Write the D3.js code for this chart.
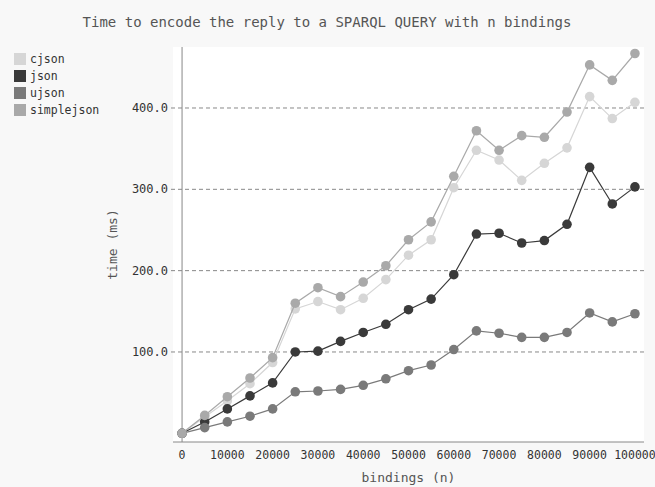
<!DOCTYPE html>
<html>
<head>
<meta charset="utf-8">
<script src="https://cdn.jsdelivr.net/npm/d3@7"></script>
<style>
  body { margin: 0; background: #f8f8f8; }
  svg text { font-family: "DejaVu Sans Mono", monospace; }
</style>
</head>
<body>
<svg id="chart" width="655" height="487"></svg>
<script>
// Time to encode SPARQL reply

var bindings = [0, 5000, 10000, 15000, 20000, 25000, 30000, 35000, 40000, 45000, 50000,
  55000, 60000, 65000, 70000, 75000, 80000, 85000, 90000, 95000, 100000];

var cjson = [0, 20, 40, 61, 87, 153, 162, 152, 166, 189, 219,
  238, 302, 348, 336, 311, 332, 351, 414, 387, 407];
var json = [0, 14, 30, 46, 62, 100, 101, 113, 124, 134, 152,
  165, 195, 245, 246, 234, 237, 257, 327, 282, 303];
var ujson = [0, 7, 14, 21, 30, 51, 52, 54, 59, 67, 77,
  84, 103, 126, 123, 118, 118, 124, 148, 137, 147];
var simplejson = [0, 22, 45, 68, 93, 160, 179, 168, 186, 206, 238,
  260, 316, 372, 348, 366, 364, 395, 453, 434, 467];

var seriesNames = ["cjson", "json", "ujson", "simplejson"];
var seriesValues = [cjson, json, ujson, simplejson];
var colors = ["#d6d6d6", "#3a3a3a", "#7a7a7a", "#a9a9a9"];
var yTicks = [100, 200, 300, 400];
var xTicks = [0, 10000, 20000, 30000, 40000, 50000, 60000, 70000, 80000, 90000, 100000];

var svg = d3.select("#chart");

var plotLeft = 173, plotRight = 644, plotTop = 47, plotBottom = 442;

var x = d3.scaleLinear().domain([-2000, 102000]).range([plotLeft, plotRight]);
var y = d3.scaleLinear().domain([-10.7, 475]).range([plotBottom, plotTop]);

// plot background
svg.append("rect")
  .attr("x", plotLeft)
  .attr("y", plotTop)
  .attr("width", plotRight - plotLeft)
  .attr("height", plotBottom - plotTop)
  .attr("fill", "#ffffff");

// title
svg.append("text")
  .attr("x", 327)
  .attr("y", 27)
  .attr("text-anchor", "middle")
  .attr("font-size", "14px")
  .attr("fill", "#555")
  .text("Time to encode the reply to a SPARQL QUERY with n bindings");

// y grid + labels
var yAxis = svg.append("g");
yAxis.selectAll("line")
  .data(yTicks)
  .enter()
  .append("line")
  .attr("x1", plotLeft - 2)
  .attr("x2", plotRight)
  .attr("y1", function (d) { return y(d); })
  .attr("y2", function (d) { return y(d); })
  .attr("stroke", "#888")
  .attr("stroke-width", 1)
  .attr("stroke-dasharray", "4,3");
yAxis.selectAll("text")
  .data(yTicks)
  .enter()
  .append("text")
  .attr("x", plotLeft - 5)
  .attr("y", function (d) { return y(d) + 4; })
  .attr("text-anchor", "end")
  .attr("font-size", "12px")
  .attr("fill", "#333")
  .text(function (d) { return d3.format(".1f")(d); });

// axis lines
svg.append("line")
  .attr("x1", x(0)).attr("x2", x(0))
  .attr("y1", plotTop).attr("y2", plotBottom)
  .attr("stroke", "#888");
svg.append("line")
  .attr("x1", plotLeft).attr("x2", plotRight)
  .attr("y1", plotBottom).attr("y2", plotBottom)
  .attr("stroke", "#888");

// x labels
svg.append("g").selectAll("text")
  .data(xTicks)
  .enter()
  .append("text")
  .attr("x", function (d) { return x(d); })
  .attr("y", plotBottom + 17)
  .attr("text-anchor", "middle")
  .attr("font-size", "11.5px")
  .attr("fill", "#333")
  .text(function (d) { return d; });

// axis titles
svg.append("text")
  .attr("x", (plotLeft + plotRight) / 2)
  .attr("y", 482)
  .attr("text-anchor", "middle")
  .attr("font-size", "13px")
  .attr("fill", "#555")
  .text("bindings (n)");
svg.append("text")
  .attr("transform", "translate(117," + (plotTop + plotBottom) / 2 + ") rotate(-90)")
  .attr("text-anchor", "middle")
  .attr("font-size", "13px")
  .attr("fill", "#555")
  .text("time (ms)");

// series
var line = d3.line()
  .x(function (d, i) { return x(bindings[i]); })
  .y(function (d) { return y(d); });

seriesValues.forEach(function (values, k) {
  var g = svg.append("g");
  g.append("path")
    .attr("d", line(values))
    .attr("fill", "none")
    .attr("stroke", colors[k])
    .attr("stroke-width", 1.2);
  g.selectAll("circle")
    .data(values)
    .enter()
    .append("circle")
    .attr("cx", function (d, i) { return x(bindings[i]); })
    .attr("cy", function (d) { return y(d); })
    .attr("r", 4.8)
    .attr("fill", colors[k]);
});

// legend
var legend = svg.append("g").selectAll("g")
  .data(seriesNames)
  .enter()
  .append("g")
  .attr("transform", function (d, i) { return "translate(14," + (53 + i * 17) + ")"; });
legend.append("rect")
  .attr("width", 12)
  .attr("height", 12)
  .attr("fill", function (d, i) { return colors[i]; });
legend.append("text")
  .attr("x", 16)
  .attr("y", 10)
  .attr("font-size", "11.5px")
  .attr("fill", "#333")
  .text(function (d) { return d; });
</script>
</body>
</html>
